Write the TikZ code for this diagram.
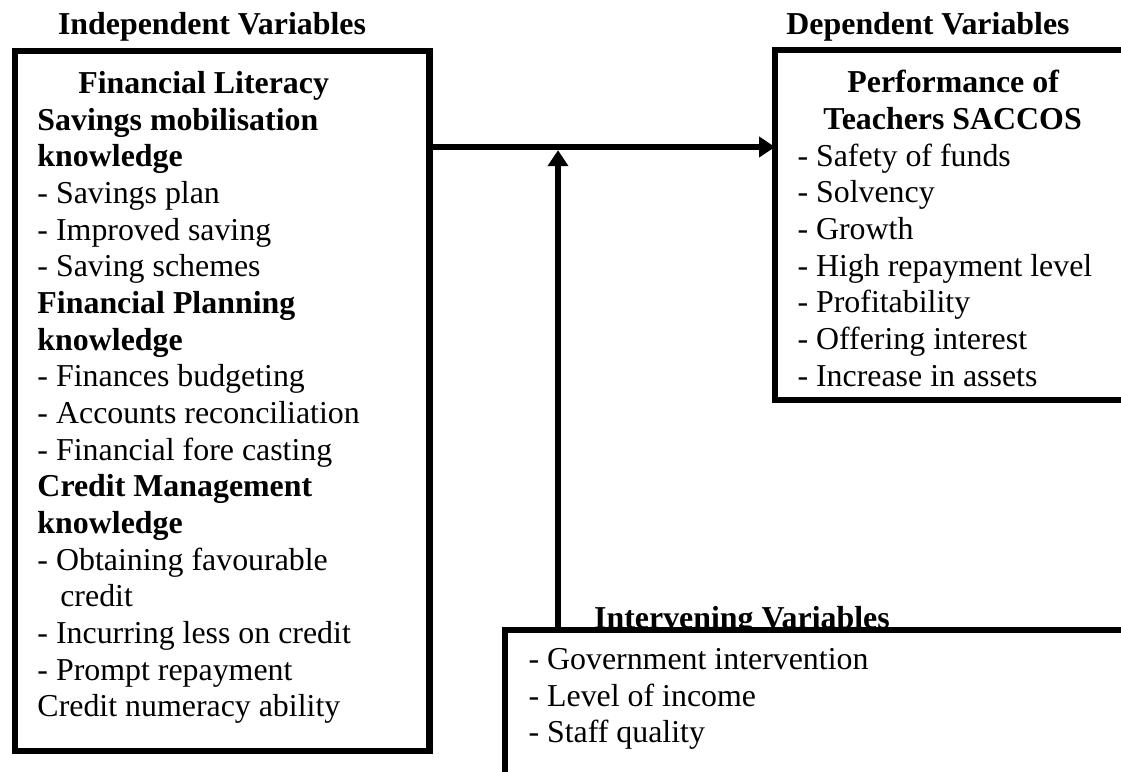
\documentclass[tikz,border=0pt]{standalone}
\usepackage{fontspec}
\setmainfont{Liberation Serif}
\usepackage{tikz}
\usetikzlibrary{arrows.meta,positioning,calc}

\begin{document}
\begin{tikzpicture}[
  font=\fontsize{12}{13.8}\selectfont,
  varbox/.style={rectangle, draw, line width=2.4pt, fill=white, inner sep=0pt,
                 outer sep=0pt},
  heading/.style={font=\fontsize{12}{13.8}\selectfont\bfseries, inner sep=0pt,
                  anchor=base},
  itemlist/.style={align=left, inner sep=0pt, anchor=north west},
  link/.style={line width=2.4pt, -{Triangle[length=6pt,width=7.5pt]}}
]
\useasboundingbox (0,0) rectangle (14.830,10.213);
\clip (0,0) rectangle (14.830,10.213);

% column headings
\node[heading] (ivhead) at (2.805,9.750) {Independent Variables};
\node[heading] (dvhead) at (12.277,9.750) {Dependent Variables};
\node[heading] (mvhead) at (9.816,1.892) {Intervening Variables};

% boxes
\node[varbox, minimum width=5.483cm, minimum height=9.260cm] (iv) at (2.940,4.908) {};
\node[varbox, minimum width=4.762cm, minimum height=4.630cm] (dv) at (12.634,7.236) {};
\node[varbox, minimum width=8.334cm, minimum height=2.117cm] (mv) at (10.848,0.820) {};

\node[itemlist] (ivtext) at (0.489,9.274) {%
  \hspace*{15.4pt}\textbf{Financial Literacy}\\
  \textbf{Savings mobilisation}\\
  \textbf{knowledge}\\
  - Savings plan\\
  - Improved saving\\
  - Saving schemes\\
  \textbf{Financial Planning}\\
  \textbf{knowledge}\\
  - Finances budgeting\\
  - Accounts reconciliation\\
  - Financial fore casting\\
  \textbf{Credit Management}\\
  \textbf{knowledge}\\
  - Obtaining favourable\\
  \hspace*{8.6pt}credit\\
  - Incurring less on credit\\
  - Prompt repayment\\
  Credit numeracy ability};

\node[itemlist] (dvtext) at (10.544,9.287) {%
  \hspace*{18.75pt}\textbf{Performance of}\\
  \hspace*{9.75pt}\textbf{Teachers SACCOS}\\
  - Safety of funds\\
  - Solvency\\
  - Growth\\
  - High repayment level\\
  - Profitability\\
  - Offering interest\\
  - Increase in assets};

\node[itemlist] (mvtext) at (6.985,1.640) {%
  - Government intervention\\
  - Level of income\\
  - Staff quality};

% links
\coordinate (jn) at (7.382,8.268);
\draw[link] (iv.east |- jn) -- (dv.west |- jn);
\draw[link] (mv.north -| jn) -- ([yshift=-1.2pt]jn);
\end{tikzpicture}
\end{document}
